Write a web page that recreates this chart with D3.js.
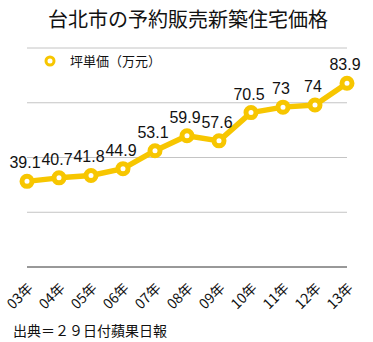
<!DOCTYPE html>
<html><head><meta charset="utf-8">
<script src="https://cdn.jsdelivr.net/npm/d3@7"></script>
<style>
body{margin:0;background:#fff;}
svg text{font-family:"Liberation Sans","Noto Sans CJK JP",sans-serif;}
.jp{font-family:"Noto Sans CJK JP",sans-serif;}
</style></head>
<body><svg id="chart" width="373" height="342"></svg>
<script>
const years = ["03年","04年","05年","06年","07年","08年","09年","10年","11年","12年","13年"];
const prices = [39.1, 40.7, 41.8, 44.9, 53.1, 59.9, 57.6, 70.5, 73, 74, 83.9];
const priceLabels = ["39.1","40.7","41.8","44.9","53.1","59.9","57.6","70.5","73","74","83.9"];
const yTicks = [0, 25, 50, 75, 100];
const title = "台北市の予約販売新築住宅価格";
const seriesName = "坪単価（万元）";
const source = "出典＝２９日付蘋果日報";

const yellow = "#f7c600";
const svg = d3.select("#chart");
const plot = { left: 27, right: 347, top: 48, bottom: 267 };

const x = d3.scalePoint().domain(years).range([plot.left, plot.right]);
const y = d3.scaleLinear().domain([0, 100]).range([plot.bottom, plot.top]);

svg.append("text").attr("class","jp").attr("x",188).attr("y",27)
  .attr("text-anchor","middle").attr("font-size",20).attr("fill","#111").text(title);

// horizontal grid
svg.append("g").selectAll("line").data(yTicks.filter(d => d > 0)).join("line")
  .attr("x1", plot.left).attr("x2", plot.right)
  .attr("y1", d => y(d)).attr("y2", d => y(d))
  .attr("stroke", "#c4c4c4").attr("stroke-width", 1);
svg.append("line").attr("x1", plot.left).attr("x2", plot.right)
  .attr("y1", y(0)).attr("y2", y(0)).attr("stroke", "#333").attr("stroke-width", 1);

// legend
svg.append("circle").attr("cx", 50).attr("cy", 61).attr("r", 4)
  .attr("fill", "#fff").attr("stroke", yellow).attr("stroke-width", 3);
svg.append("text").attr("class","jp").attr("x", 70).attr("y", 66)
  .attr("font-size", 13).attr("fill", "#111").text(seriesName);

// line
const line = d3.line().x((d, i) => x(years[i])).y(d => y(d));
svg.append("path").datum(prices).attr("d", line)
  .attr("fill", "none").attr("stroke", yellow).attr("stroke-width", 5.5)
  .attr("stroke-linejoin", "round");

svg.append("g").selectAll("circle").data(prices).join("circle")
  .attr("cx", (d, i) => x(years[i])).attr("cy", d => y(d)).attr("r", 5)
  .attr("fill", "#fff").attr("stroke", yellow).attr("stroke-width", 5);

// value labels
svg.append("g").selectAll("text").data(prices).join("text")
  .attr("x", (d, i) => x(years[i]) - 2).attr("y", d => y(d) - 13)
  .attr("text-anchor", "middle").attr("font-size", 16).attr("fill", "#111")
  .text((d, i) => priceLabels[i]);

// x tick labels, slanted
svg.append("g").selectAll("text").data(years).join("text")
  .attr("class","jp")
  .attr("transform", d => `translate(${x(d) + 7},${plot.bottom + 22}) rotate(-45)`)
  .attr("text-anchor", "end").attr("font-size", 14).attr("fill", "#111")
  .text(d => d);

svg.append("text").attr("class","jp").attr("x", 13).attr("y", 336)
  .attr("font-size", 14).attr("fill", "#111").text(source);
</script></body></html>
